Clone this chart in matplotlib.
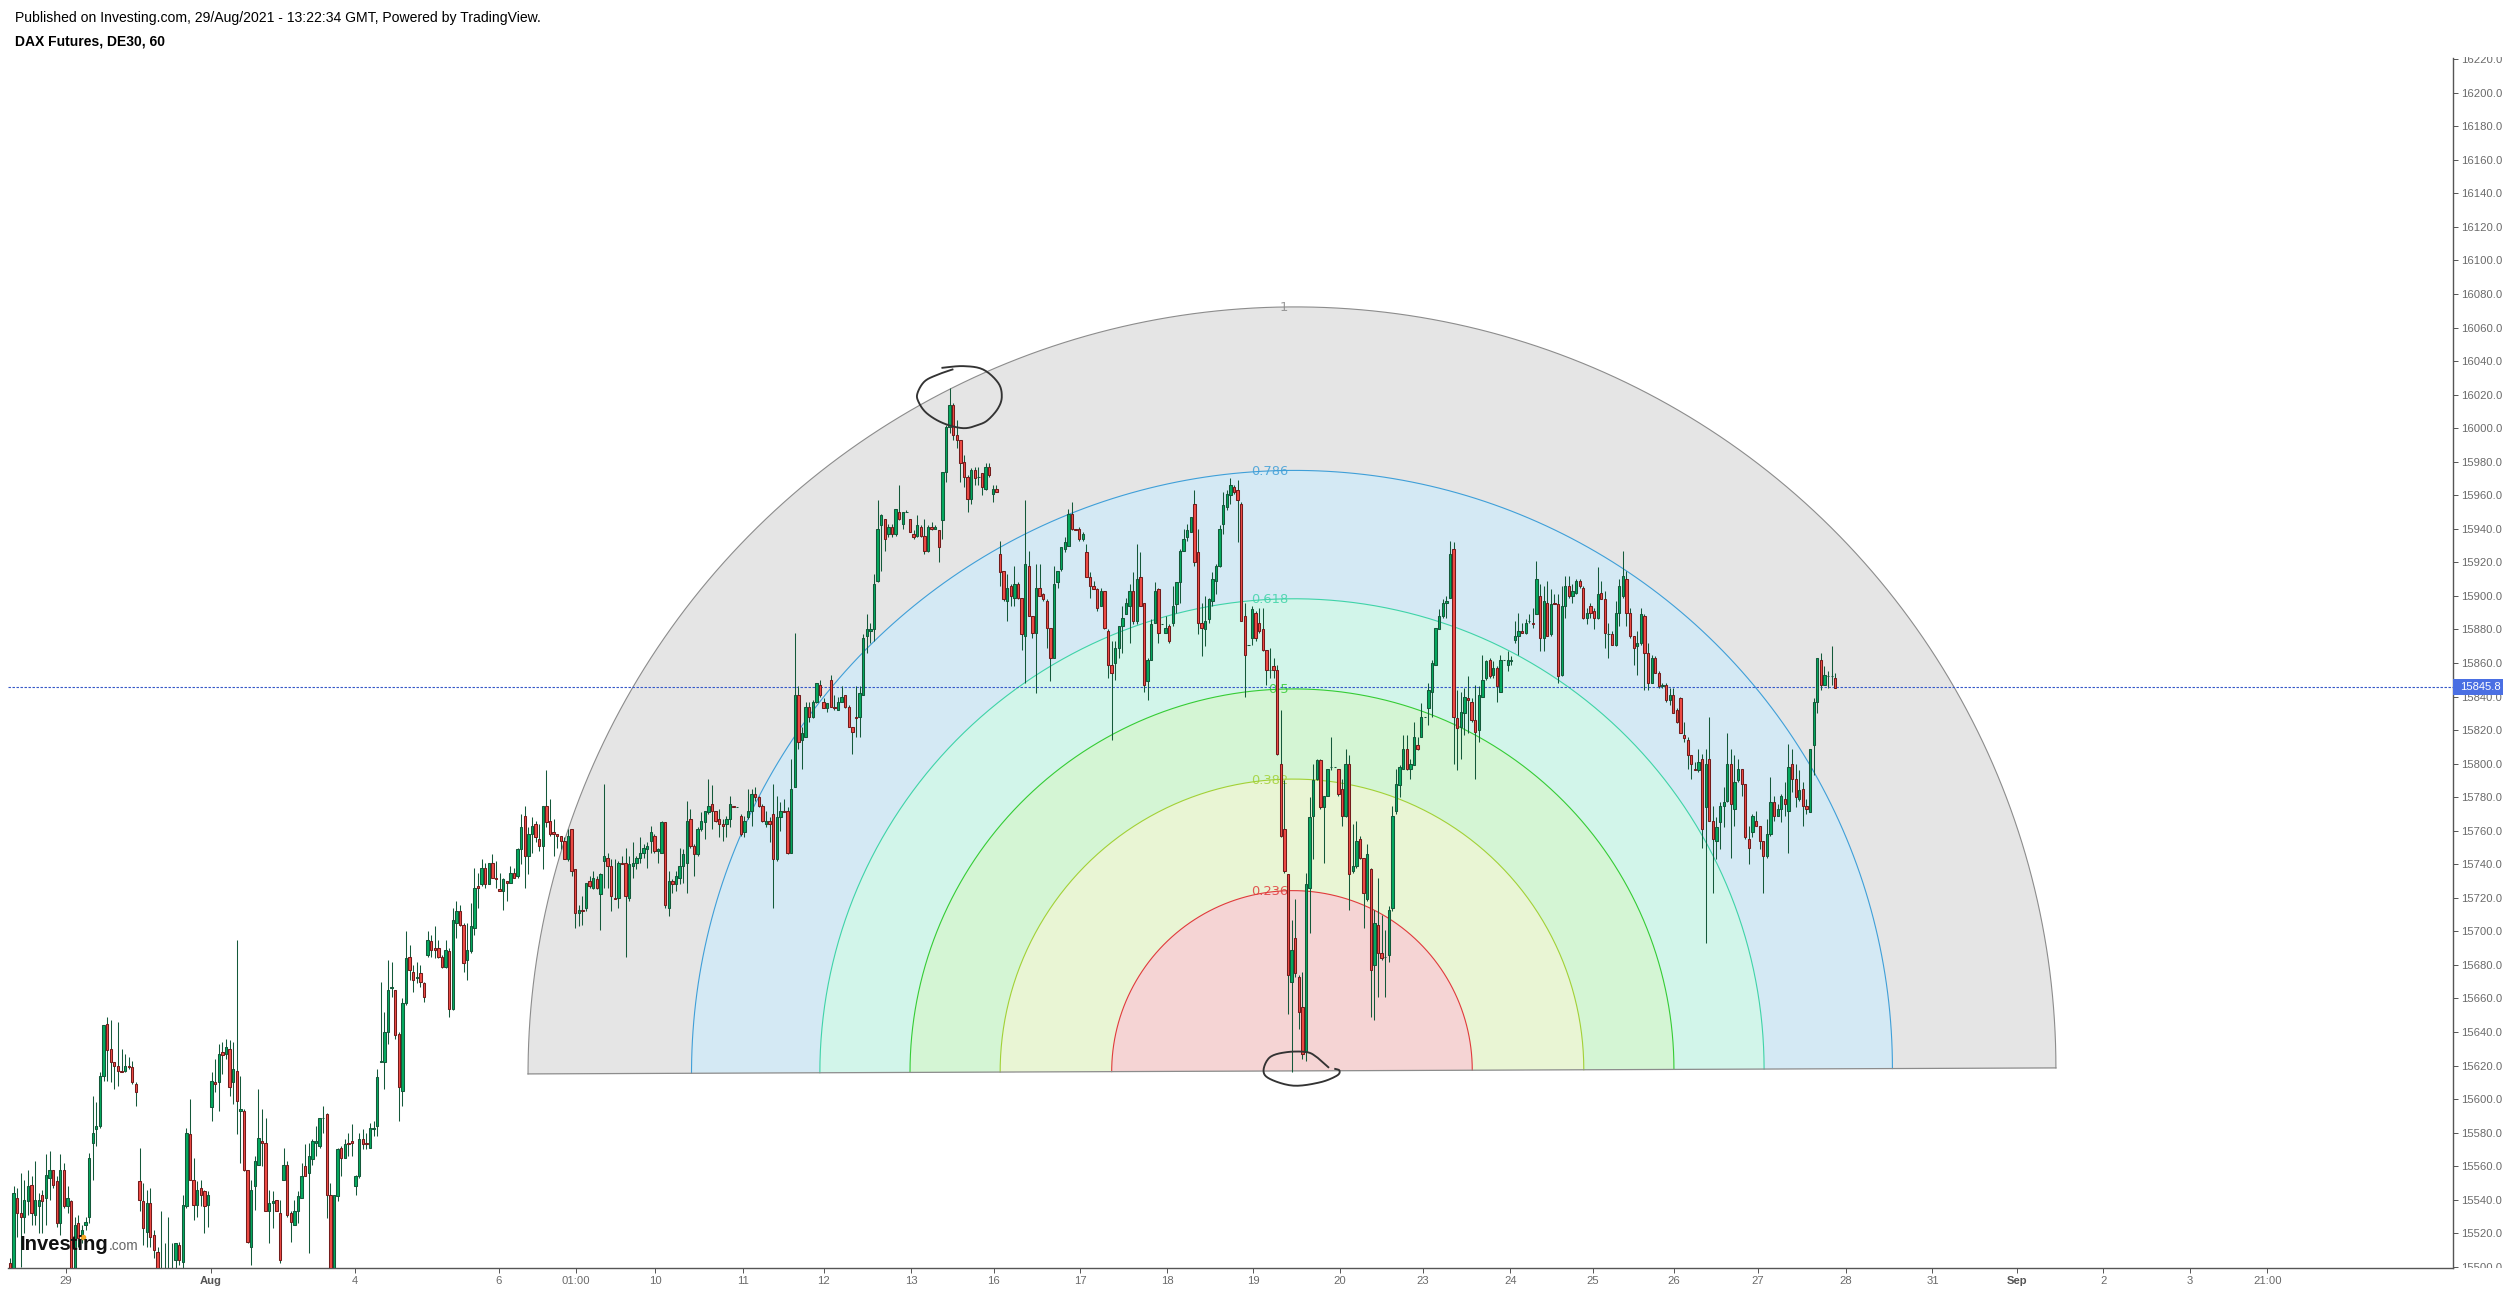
import numpy as np
import matplotlib
matplotlib.use("Agg")
import matplotlib.pyplot as plt
from matplotlib.collections import LineCollection
from matplotlib.patches import Rectangle
from matplotlib.transforms import Bbox, TransformedBbox

plt.rcParams['font.family'] = ['Liberation Sans', 'DejaVu Sans']

# hourly DE30 candles
opens = [
15502,15495,15541,15532,15530,15539,15549,15531,15536,15543,
15541,15553,15558,15551,15526,15558,15536,15539,15490,15526,
15517,15525,15530,15574,15582,15584,15614,15645,15630,15622,
15620,15617,15617,15620,15619,15609,15551,15539,15521,15538,
15519,15509,15490,15494,15490,15495,15504,15513,15503,15536,
15579,15552,15537,15547,15545,15537,15595,15610,15610,15628,
15627,15630,15610,15617,15593,15593,15558,15512,15548,15561,
15575,15574,15533,15538,15540,15532,15552,15561,15532,15525,
15533,15541,15560,15556,15564,15574,15572,15589,15591,15543,
15490,15542,15571,15565,15574,15575,15548,15554,15576,15574,
15571,15582,15584,15622,15622,15640,15666,15665,15639,15605,
15657,15685,15676,15672,15675,15669,15686,15694,15690,15690,
15685,15679,15688,15654,15705,15712,15704,15683,15688,15702,
15727,15728,15738,15728,15741,15732,15725,15724,15730,15729,
15735,15733,15749,15769,15745,15758,15764,15755,15751,15775,
15766,15759,15758,15757,15754,15743,15761,15737,15711,15713,
15714,15730,15726,15731,15722,15742,15744,15739,15720,15720,
15741,15741,15720,15739,15741,15744,15747,15749,15754,15757,
15748,15747,15765,15714,15730,15728,15732,15739,15741,15767,
15751,15746,15761,15765,15771,15776,15772,15767,15764,15764,
15767,15775,15774,15769,15759,15768,15772,15782,15780,15775,
15764,15766,15770,15743,15768,15772,15772,15747,15786,15841,
15814,15816,15834,15828,15837,15847,15837,15833,15850,15834,
15832,15837,15841,15834,15822,15828,15828,15841,15876,15879,
15880,15909,15942,15946,15937,15941,15937,15950,15943,15950,
15946,15937,15936,15941,15936,15927,15941,15940,15939,15945,
15974,16001,16014,15996,15993,15980,15971,15958,15975,15971,
15973,15964,15977,15961,15964,15925,15915,15897,15906,15899,
15907,15899,15876,15918,15888,15878,15905,15901,15897,15881,
15863,15908,15916,15928,15930,15949,15940,15940,15934,15926,
15911,15906,15904,15894,15903,15879,15859,15860,15869,15882,
15889,15894,15903,15885,15911,15896,15849,15862,15884,15904,
15883,15878,15882,15884,15895,15908,15927,15935,15938,15955,
15926,15884,15880,15886,15897,15909,15918,15943,15953,15960,
15965,15963,15955,15888,15871,15875,15890,15884,15880,15868,
15856,15858,15856,15800,15761,15734,15670,15696,15673,15655,
15628,15726,15769,15791,15802,15774,15781,15798,15798,15797,
15785,15769,15800,15736,15739,15755,15744,15719,15737,15680,
15704,15687,15685,15686,15714,15772,15787,15797,15809,15797,
15799,15811,15816,15828,15833,15843,15859,15880,15888,15896,
15899,15928,15827,15822,15830,15839,15837,15826,15820,15840,
15851,15862,15853,15857,15843,15862,15859,15861,15874,15876,
15879,15878,15885,15884,15889,15900,15875,15896,15877,15896,
15895,15853,15894,15906,15900,15902,15909,15905,15887,15894,
15891,15887,15902,15898,15877,15877,15871,15890,15900,15910,
15890,15876,15870,15872,15888,15866,15848,15863,15854,15846,
15847,15838,15841,15832,15839,15817,15814,15805,15797,15796,
15803,15774,15803,15766,15754,15765,15775,15778,15800,15773,
15790,15797,15788,15755,15759,15766,15763,15754,15745,15758,
15777,15769,15773,15779,15772,15800,15791,15779,15785,15775,
15771,15811,15837,15862,15847,15852,15852,15851]

closes = [
15498,15544,15532,15530,15540,15548,15532,15540,15540,15539,
15555,15558,15549,15526,15558,15536,15541,15490,15525,15517,
15522,15527,15565,15580,15584,15614,15644,15629,15622,15620,
15617,15616,15620,15619,15610,15604,15540,15523,15538,15518,
15510,15498,15494,15490,15495,15492,15514,15504,15537,15580,
15552,15537,15546,15543,15536,15543,15611,15609,15627,15626,
15631,15607,15618,15599,15594,15558,15515,15546,15563,15577,
15574,15533,15538,15539,15533,15504,15561,15531,15527,15533,
15542,15554,15554,15566,15575,15575,15589,15589,15543,15490,
15543,15570,15565,15573,15573,15574,15554,15576,15573,15573,
15583,15583,15613,15623,15640,15665,15667,15638,15607,15657,
15684,15677,15671,15673,15670,15661,15695,15689,15689,15685,
15679,15689,15654,15707,15712,15704,15681,15689,15703,15726,
15726,15738,15728,15741,15732,15731,15724,15731,15729,15735,
15732,15749,15762,15745,15758,15763,15756,15751,15775,15765,
15758,15758,15757,15754,15743,15757,15736,15711,15713,15712,
15729,15727,15732,15726,15734,15745,15739,15721,15719,15741,
15740,15721,15740,15741,15744,15747,15750,15751,15759,15748,
15749,15765,15716,15730,15728,15733,15739,15746,15766,15751,
15746,15761,15766,15772,15775,15772,15766,15764,15763,15767,
15776,15774,15774,15758,15766,15772,15782,15780,15775,15766,
15766,15764,15743,15768,15772,15771,15747,15785,15841,15813,
15818,15834,15828,15837,15848,15841,15833,15836,15834,15833,
15837,15840,15834,15822,15819,15827,15842,15875,15880,15880,
15907,15940,15948,15934,15941,15937,15952,15946,15950,15950,
15938,15935,15942,15936,15927,15941,15940,15941,15929,15974,
16001,16014,15996,15993,15979,15971,15958,15975,15970,15971,
15965,15977,15972,15964,15962,15914,15898,15905,15900,15907,
15899,15877,15919,15888,15878,15905,15900,15898,15881,15863,
15907,15915,15929,15932,15949,15940,15939,15934,15937,15911,
15906,15904,15893,15903,15881,15859,15854,15869,15882,15887,
15896,15903,15885,15910,15894,15847,15862,15883,15903,15878,
15883,15881,15873,15894,15908,15927,15934,15939,15947,15920,
15884,15881,15885,15898,15910,15918,15940,15954,15961,15966,
15962,15957,15885,15865,15871,15892,15875,15879,15868,15856,
15856,15856,15806,15757,15736,15674,15689,15675,15652,15627,
15728,15768,15790,15802,15774,15781,15797,15798,15798,15782,
15769,15800,15734,15739,15754,15744,15723,15746,15677,15705,
15687,15684,15685,15713,15769,15788,15798,15809,15797,15800,
15816,15809,15828,15828,15844,15860,15881,15888,15896,15897,
15925,15828,15821,15831,15840,15838,15826,15819,15841,15850,
15861,15852,15857,15846,15862,15862,15862,15862,15876,15879,
15878,15884,15885,15883,15910,15875,15897,15876,15895,15895,
15852,15894,15906,15900,15903,15909,15906,15887,15890,15890,
15887,15901,15898,15878,15877,15871,15890,15906,15912,15890,
15876,15869,15872,15889,15866,15848,15863,15854,15846,15847,
15838,15841,15830,15825,15818,15815,15805,15800,15796,15801,
15761,15800,15766,15755,15762,15775,15777,15800,15776,15789,
15797,15788,15756,15750,15769,15763,15754,15745,15758,15777,
15769,15773,15781,15776,15798,15791,15780,15784,15775,15773,
15809,15837,15863,15847,15853,15852,15852,15845]

highs = [
15505,15548,15547,15556,15552,15558,15554,15563,15544,15546,
15567,15569,15558,15554,15567,15562,15548,15540,15530,15531,
15525,15530,15568,15602,15598,15616,15644,15649,15647,15622,
15646,15630,15627,15625,15623,15610,15571,15550,15546,15547,
15522,15512,15533,15514,15530,15514,15514,15515,15543,15583,
15600,15565,15551,15552,15546,15545,15616,15624,15633,15634,
15636,15635,15634,15695,15614,15594,15558,15552,15566,15606,
15594,15589,15546,15545,15540,15540,15571,15563,15533,15540,
15545,15562,15573,15574,15576,15584,15589,15596,15592,15550,
15543,15571,15572,15576,15580,15585,15555,15580,15582,15580,
15586,15587,15618,15670,15652,15683,15682,15665,15640,15660,
15700,15692,15680,15682,15680,15670,15700,15698,15703,15695,
15686,15695,15690,15714,15718,15716,15705,15705,15717,15738,
15735,15743,15741,15741,15746,15742,15735,15732,15730,15739,
15738,15750,15770,15775,15762,15768,15766,15764,15775,15796,
15779,15767,15758,15757,15756,15761,15761,15737,15716,15721,
15729,15733,15736,15733,15735,15788,15747,15743,15743,15742,
15745,15750,15745,15753,15745,15756,15752,15753,15763,15758,
15750,15766,15765,15736,15731,15736,15750,15749,15778,15773,
15752,15762,15771,15772,15791,15787,15772,15773,15767,15769,
15781,15775,15774,15770,15769,15785,15785,15786,15781,15776,
15772,15768,15788,15781,15777,15779,15774,15803,15878,15846,
15822,15837,15837,15838,15848,15850,15839,15836,15853,15841,
15840,15846,15841,15835,15822,15846,15846,15877,15889,15884,
15913,15957,15949,15946,15943,15943,15952,15966,15950,15951,
15946,15939,15948,15942,15946,15942,15944,15942,15939,15974,
16002,16024,16015,16005,15993,15984,15972,15976,15977,15977,
15973,15979,15979,15966,15966,15933,15915,15913,15907,15918,
15908,15899,15957,15927,15888,15919,15919,15902,15898,15881,
15918,15915,15929,15935,15952,15956,15940,15941,15938,15931,
15914,15909,15905,15905,15903,15880,15873,15873,15882,15894,
15899,15907,15914,15931,15926,15896,15863,15886,15908,15905,
15883,15888,15883,15906,15908,15928,15940,15943,15947,15963,
15940,15896,15900,15899,15914,15919,15942,15962,15963,15970,
15966,15969,15956,15896,15871,15894,15891,15893,15893,15868,
15869,15863,15859,15832,15790,15734,15707,15719,15674,15676,
15735,15780,15800,15803,15803,15781,15797,15816,15798,15797,
15791,15809,15805,15764,15766,15757,15744,15752,15738,15713,
15732,15710,15701,15715,15775,15797,15799,15817,15817,15803,
15825,15816,15836,15828,15848,15862,15881,15892,15898,15900,
15933,15932,15844,15843,15845,15852,15839,15847,15846,15865,
15862,15863,15861,15858,15865,15862,15867,15864,15885,15890,
15884,15886,15889,15893,15921,15907,15906,15909,15904,15901,
15901,15906,15912,15912,15907,15910,15910,15906,15893,15896,
15893,15917,15909,15903,15884,15879,15897,15910,15927,15915,
15893,15876,15879,15893,15889,15872,15865,15864,15855,15848,
15848,15845,15845,15833,15840,15825,15816,15805,15801,15809,
15806,15809,15828,15775,15768,15777,15786,15818,15809,15805,
15803,15797,15788,15763,15770,15772,15763,15754,15767,15792,
15781,15776,15782,15789,15812,15809,15800,15796,15789,15779,
15809,15839,15863,15866,15858,15855,15870,15854]

lows = [
15490,15490,15518,15500,15520,15531,15525,15525,15520,15520,
15525,15540,15547,15524,15519,15535,15532,15485,15485,15512,
15514,15522,15526,15552,15572,15583,15611,15611,15610,15606,
15608,15616,15616,15618,15609,15596,15533,15513,15512,15512,
15505,15490,15485,15485,15485,15485,15495,15501,15495,15535,
15552,15528,15530,15536,15520,15524,15587,15604,15593,15615,
15624,15602,15597,15579,15562,15557,15514,15501,15534,15561,
15560,15533,15514,15523,15533,15502,15552,15530,15515,15525,
15526,15541,15554,15508,15561,15566,15571,15580,15529,15490,
15490,15539,15554,15565,15566,15566,15543,15553,15570,15570,
15571,15578,15578,15622,15606,15633,15661,15636,15587,15596,
15656,15671,15664,15669,15667,15658,15685,15685,15684,15684,
15678,15678,15649,15653,15696,15703,15676,15671,15687,15698,
15714,15727,15726,15728,15732,15726,15724,15713,15718,15729,
15732,15732,15740,15726,15734,15747,15753,15748,15737,15762,
15757,15745,15750,15749,15743,15742,15733,15702,15703,15704,
15712,15726,15725,15725,15701,15726,15726,15712,15719,15714,
15740,15685,15718,15732,15737,15741,15744,15738,15747,15747,
15741,15747,15714,15709,15723,15724,15728,15729,15723,15750,
15733,15745,15760,15755,15770,15761,15765,15756,15754,15756,
15762,15774,15774,15757,15756,15767,15763,15778,15774,15765,
15762,15753,15714,15742,15760,15771,15746,15747,15786,15809,
15797,15816,15825,15827,15836,15840,15833,15831,15834,15832,
15832,15837,15833,15822,15806,15816,15816,15841,15866,15872,
15873,15908,15915,15927,15935,15935,15936,15945,15940,15950,
15938,15934,15935,15935,15925,15926,15939,15940,15920,15934,
15968,15997,15993,15988,15968,15965,15950,15955,15966,15966,
15960,15963,15971,15956,15962,15906,15897,15885,15894,15894,
15898,15868,15848,15888,15875,15842,15900,15897,15869,15849,
15863,15905,15915,15926,15930,15939,15939,15933,15933,15911,
15899,15904,15891,15894,15880,15851,15814,15850,15863,15866,
15889,15872,15883,15883,15894,15843,15838,15862,15884,15872,
15883,15878,15872,15882,15890,15896,15927,15933,15938,15918,
15877,15864,15870,15884,15894,15901,15917,15937,15951,15955,
15961,15932,15885,15840,15871,15871,15873,15878,15867,15847,
15851,15851,15805,15756,15735,15651,15616,15673,15642,15624,
15623,15699,15743,15790,15773,15741,15781,15796,15798,15781,
15763,15768,15713,15735,15738,15743,15702,15718,15649,15647,
15661,15683,15661,15682,15712,15770,15780,15797,15796,15791,
15799,15808,15816,15828,15823,15828,15859,15880,15887,15887,
15899,15800,15796,15803,15817,15818,15825,15791,15813,15840,
15850,15851,15851,15837,15843,15862,15855,15859,15872,15865,
15878,15877,15884,15881,15889,15867,15867,15876,15876,15895,
15848,15852,15887,15899,15896,15901,15905,15886,15883,15887,
15880,15886,15898,15869,15863,15871,15870,15882,15899,15882,
15875,15859,15853,15871,15844,15844,15848,15854,15845,15845,
15837,15835,15830,15824,15818,15813,15797,15791,15796,15795,
15750,15693,15766,15723,15743,15749,15762,15777,15744,15763,
15789,15781,15755,15740,15756,15763,15749,15723,15744,15757,
15766,15769,15765,15769,15747,15783,15774,15778,15763,15770,
15771,15793,15830,15844,15847,15845,15847,15845]

last_price = 15845.8

# time axis, positions are bar numbers
tick_bars = [15.5, 55.8, 95.8, 135.8, 157.2, 179.2, 203.6, 226.1, 250.3, 273.3, 297.2, 321.4, 345.3,
             369.4, 392.5, 416.7, 439.7, 462.2, 485.6, 510, 534, 557.5, 581.4, 605.6, 627]
tick_names = ['29', 'Aug', '4', '6', '01:00', '10', '11', '12', '13', '16', '17', '18', '19',
              '20', '23', '24', '25', '26', '27', '28', '31', 'Sep', '2', '3', '21:00']

# fib arcs
arc_levels = [1, 0.786, 0.618, 0.5, 0.382, 0.236]
arc_names = ['1', '0.786', '0.618', '0.5', '0.382', '0.236']
arc_lines = ['#8c8c8c', '#3f9fd8', '#3fd3a8', '#35cc35', '#a2d136', '#e03b3b']
arc_fills = ['#e5e5e5', '#d4e9f4', '#d2f5ea', '#d4f5d4', '#e9f5d4', '#f5d4d4']
arc_center = (356.1, 15616.8)
arc_radius = (212.2, 455.5)
arc_tilt = 0.00843

# the hand drawn rings
top_ring_x = [259.0, 264.8, 270.3, 274.5, 275.5, 274.5, 271.7, 269.0, 264.8, 259.2, 254.6, 252.3, 252.1, 254.1, 257.8, 261.8]
top_ring_y = [16036, 16037, 16035, 16027, 16019, 16012, 16005, 16002, 16000, 16003, 16009, 16016, 16021, 16028, 16032, 16035]
low_ring_x = [366.2, 363.0, 360.2, 354.7, 350.0, 348.2, 350.0, 356.5, 363.9, 368.6, 369.3, 368.1]
low_ring_y = [15619, 15625, 15628, 15628, 15625, 15617, 15612, 15608, 15610, 15614, 15617, 15618]


def smooth(xs, ys, n=12):
    # catmull-rom through the points
    p = np.column_stack([xs, ys]).astype(float)
    p = np.vstack([p[0], p, p[-1]])
    out = []
    for i in range(1, len(p) - 2):
        for t in np.linspace(0, 1, n, endpoint=False):
            out.append(0.5 * (2 * p[i] + (p[i + 1] - p[i - 1]) * t
                              + (2 * p[i - 1] - 5 * p[i] + 4 * p[i + 1] - p[i + 2]) * t ** 2
                              + (3 * p[i] - p[i - 1] - 3 * p[i + 1] + p[i + 2]) * t ** 3))
    out.append(p[-1])
    out = np.array(out)
    return out[:, 0], out[:, 1]


W, H = 2510, 1292
fig = plt.figure(figsize=(W / 100, H / 100), dpi=100, facecolor='white')
left, right, top, bottom = 8, 2453, 58, 1268
ax = fig.add_axes([left / W, 1 - bottom / H, (right - left) / W, (bottom - top) / H])
ax.set_xlim(-0.55, 678.6)
ax.set_ylim(15499.3, 16220.7)

# arcs
theta = np.linspace(0, np.pi, 400)
for lev, line, fill in zip(arc_levels, arc_lines, arc_fills):
    ax_ = arc_center[0] + lev * arc_radius[0] * np.cos(theta)
    ay_ = arc_center[1] + lev * arc_radius[1] * np.sin(theta) + arc_tilt * lev * arc_radius[0] * np.cos(theta)
    ax.fill(ax_, ay_, color=fill, lw=0, zorder=1)
    ax.plot(ax_, ay_, color=line, lw=0.8, zorder=1.2)
base_x = [arc_center[0] - arc_radius[0], arc_center[0] + arc_radius[0]]
base_y = [arc_center[1] - arc_tilt * arc_radius[0], arc_center[1] + arc_tilt * arc_radius[0]]
ax.plot(base_x, base_y, color='#8c8c8c', lw=0.9, zorder=1.3)

for lev, name, line in zip(arc_levels, arc_names, arc_lines):
    ax.text(arc_center[0] - 1.0, arc_center[1] + lev * arc_radius[1] - 0.6, name, family='DejaVu Sans', fontsize=9.4,
            color=line, alpha=0.85, ha='right', va='center', zorder=1.4)

ax.axhline(last_price, color='#3558c8', lw=0.8, ls=(0, (2.2, 1.4)), zorder=1.5)

# candles
o = np.array(opens)
c = np.array(closes)
hi = np.array(highs)
lo = np.array(lows)
x = np.arange(len(o))
up = c >= o
wicks = [[(i, l), (i, h)] for i, l, h in zip(x, lo, hi)]
ax.add_collection(LineCollection(wicks, colors='#14593a', linewidths=0.75, zorder=2))
ax.bar(x[up], (c - o)[up], bottom=o[up], width=0.62, color='#04aa5f', edgecolor='#14593a', linewidth=0.75, zorder=3)
ax.bar(x[~up], (c - o)[~up], bottom=o[~up], width=0.62, color='#ef4b45', edgecolor='#731c1c', linewidth=0.75, zorder=3)

rx, ry = smooth(top_ring_x, top_ring_y)
ax.plot(rx, ry, color='#333333', lw=1.35, zorder=4)
rx, ry = smooth(low_ring_x, low_ring_y)
ax.plot(rx, ry, color='#333333', lw=1.35, zorder=4)

# axes
for s in ['left', 'top']:
    ax.spines[s].set_visible(False)
for s in ['right', 'bottom']:
    ax.spines[s].set_color('#555555')
    ax.spines[s].set_linewidth(1.0)
ax.yaxis.tick_right()
yt = np.arange(15500, 16221, 20)
ax.set_yticks(yt)
ax.set_yticklabels(['%.1f' % v for v in yt])
ax.set_xticks(tick_bars)
ax.set_xticklabels(tick_names)
ax.tick_params(axis='both', length=3.6, width=0.7, color='#555555', labelcolor='#6a6a6a', labelsize=8.1, pad=2.2)
for lab in ax.get_xticklabels():
    if lab.get_text() in ['Aug', 'Sep']:
        lab.set_fontweight('bold')
        lab.set_color('#555555')
clip = TransformedBbox(Bbox([[0, (H - bottom) / H], [1, (H - 57) / H]]), fig.transFigure)
for lab in ax.get_yticklabels():
    lab.set_clip_on(True)
    lab.set_clip_box(clip)

# last price tag
ytr = ax.get_yaxis_transform()
ax.add_patch(Rectangle((1.0, last_price - 4.8), 0.02045, 9.6, transform=ytr, color='#4a6fe3', lw=0, clip_on=False, zorder=6))
ax.text(1.00286, last_price, '%.1f' % last_price, transform=ytr, color='white', fontsize=8.1, va='center', ha='left',
        clip_on=False, zorder=7)

# header
fig.text(15 / W, 1 - 18 / H, 'Published on Investing.com, 29/Aug/2021 - 13:22:34 GMT, Powered by TradingView.',
         fontsize=10.05, color='black', va='center', ha='left')
fig.text(15 / W, 1 - 41 / H, 'DAX Futures, DE30, 60', fontsize=10, fontweight='bold', color='black', va='center', ha='left')

# logo
fig.text(20 / W, 1 - 1245 / H, 'Investing', fontsize=14.6, fontweight='bold', color='#111111', va='center', ha='left')
fig.text(109 / W, 1 - 1246 / H, '.com', fontsize=9.8, color='#666666', va='center', ha='left')
ax.plot([20.3], [15518], 'o', color='#f5a623', ms=3, zorder=5)

fig.savefig('out.png', dpi=100)
